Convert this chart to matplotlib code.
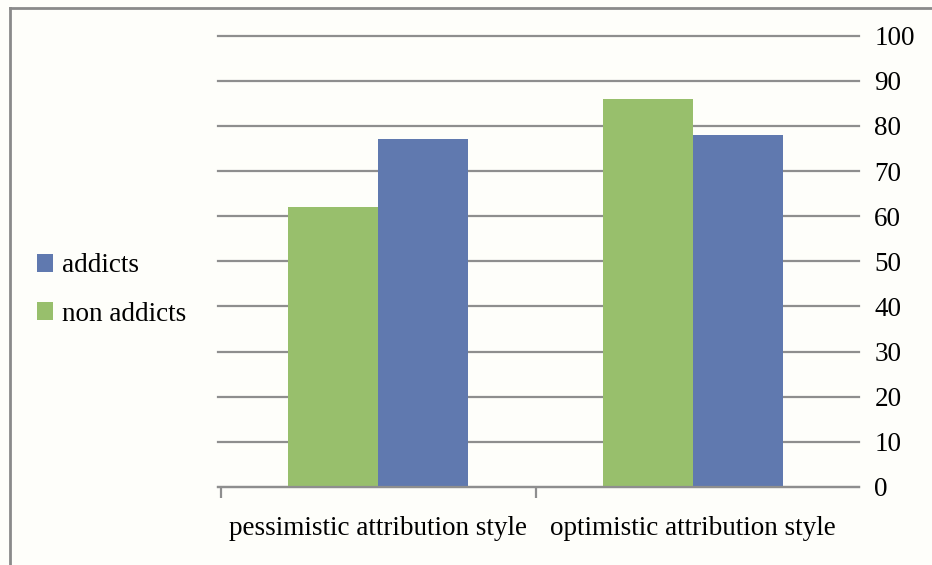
import matplotlib
matplotlib.use("Agg")
import matplotlib.pyplot as plt
from matplotlib.patches import Patch
from matplotlib.lines import Line2D
import numpy as np

categories = ["pessimistic attribution style", "optimistic attribution style"]
non_addicts = [62, 86]
addicts = [77, 78]
yticks = [0, 10, 20, 30, 40, 50, 60, 70, 80, 90, 100]

plt.rcParams['font.family'] = ['Liberation Serif', 'DejaVu Serif']

bg = '#FEFEFA'
blue = '#6079AF'
green = '#98BF6C'
grid_c = '#8E8E8E'

fig = plt.figure(figsize=(9.32, 5.65), dpi=100, facecolor=bg)
ax = fig.add_axes([218/932, 1-487/565, (859-218)/932, (487-35.7)/565])
ax.set_facecolor(bg)

x = np.arange(len(categories))
w = 0.286
ax.bar(x - w/2, non_addicts, w, color=green, zorder=3, label='non addicts')
ax.bar(x + w/2, addicts, w, color=blue, zorder=3, label='addicts')

ax.set_xlim(-0.508, 1.527)
ax.set_ylim(0, 100)
ax.set_yticks(yticks)
ax.yaxis.tick_right()
ax.tick_params(axis='y', length=0, pad=11, labelsize=19.5, labelright=True, labelleft=False)
ax.grid(axis='y', color=grid_c, linewidth=1.6, zorder=0)
for gl in ax.get_ygridlines():
    gl.set_clip_on(False)

for s in ['top', 'left', 'right']:
    ax.spines[s].set_visible(False)
ax.spines['bottom'].set_color(grid_c)
ax.spines['bottom'].set_linewidth(1.6)
ax.spines['bottom'].set_zorder(4)

ax.set_xticks([-0.5, 0.5])
ax.set_xticklabels([])
ax.tick_params(axis='x', which='major', length=8, width=1.6, color=grid_c)
ax.set_xticks(x, minor=True)
ax.set_xticklabels(categories, minor=True, fontsize=19.5)
ax.tick_params(axis='x', which='minor', length=0, pad=21)

handles = [Patch(facecolor=blue, label='addicts'), Patch(facecolor=green, label='non addicts')]
fig.legend(handles=handles, loc='center left', bbox_to_anchor=(23/932, 1-290/565),
           frameon=False, fontsize=19.5, handlelength=0.6, handleheight=0.6,
           handletextpad=0.35, labelspacing=0.85, borderpad=0)

# outer frame (left and top edges)
fig.add_artist(Line2D([10/932, 10/932], [0, 1-8/565], transform=fig.transFigure, color='#8A8A8A', linewidth=2))
fig.add_artist(Line2D([10/932, 1], [1-8/565, 1-8/565], transform=fig.transFigure, color='#8A8A8A', linewidth=2))

fig.savefig('out.png', dpi=100, facecolor=bg)
